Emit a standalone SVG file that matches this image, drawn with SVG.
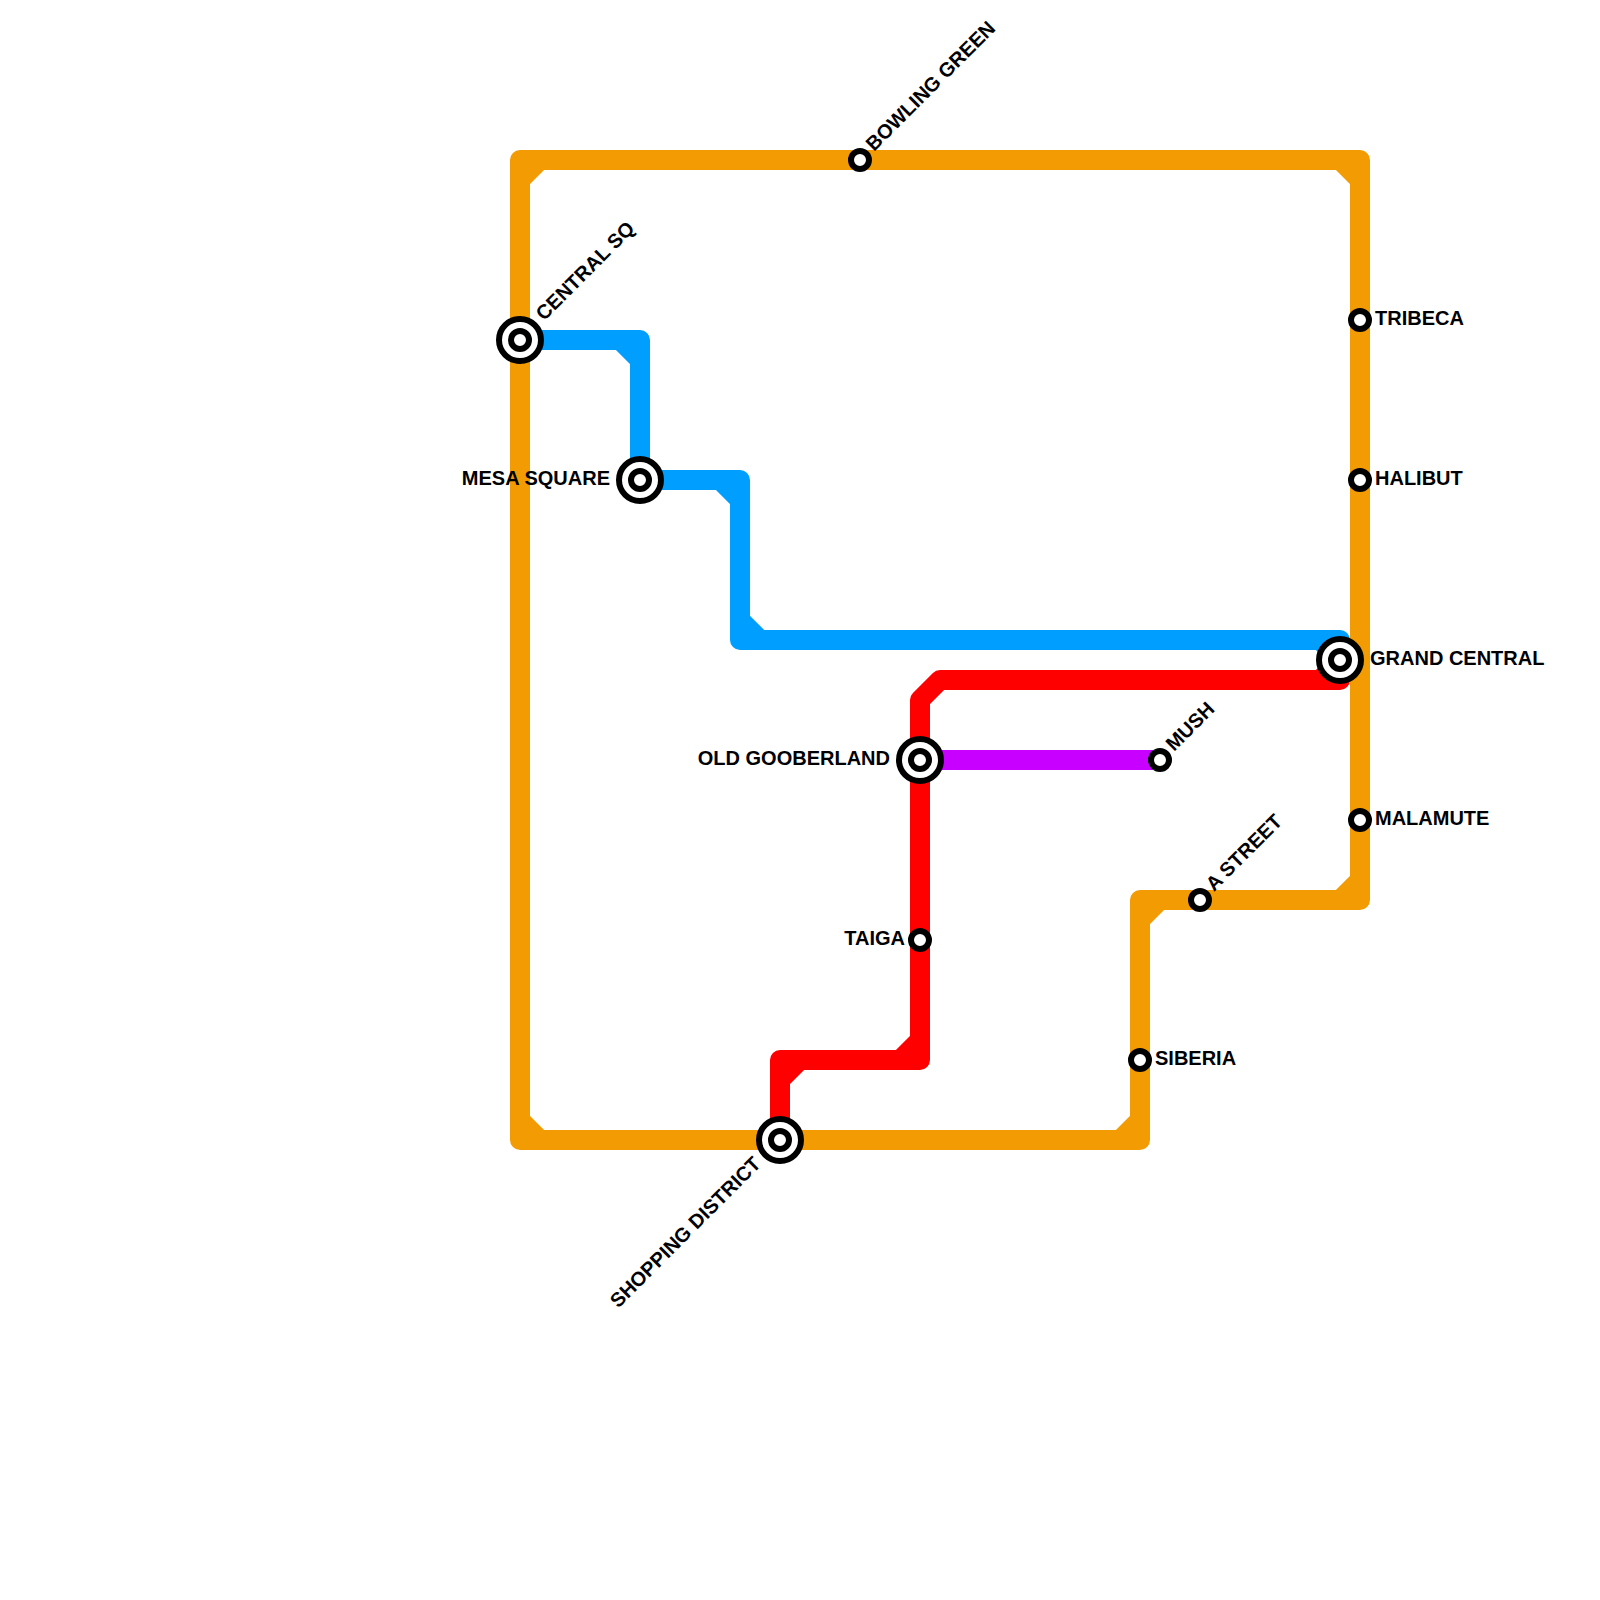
<svg xmlns="http://www.w3.org/2000/svg" width="1600" height="1600" viewBox="0 0 1600 1600">
<style>
.l{fill:none;stroke-width:20;stroke-linejoin:round;stroke-linecap:butt}
.s{fill:#fff;stroke:#000;stroke-width:6}
text{font-family:"Liberation Sans",Arial,sans-serif;font-weight:700;font-size:20px;fill:#000}
</style>
<rect width="1600" height="1600" fill="#fff"/>
<g id="connectors">
<path class="l" stroke="#f39b03" d="M520 160H1360V900H1140V1140H520ZM520 180L540 160M1340 160L1360 180M1360 880L1340 900M1140 920L1160 900M1120 1140L1140 1120M520 1120L540 1140"/>
<path class="l" stroke="#009fff" d="M520 340H640V480H740V640H1340V660M620 340L640 360M720 480L740 500M740 620L760 640M1320 640L1340 660"/>
<path class="l" stroke="#ff0000" d="M1340 660V680H940L920 700V1060H780V1140M1320 680L1340 660M900 1060L920 1040M780 1080L800 1060"/>
<path class="l" stroke="#c800ff" d="M920 760H1160"/>
</g>
<g id="central-sq"><circle class="s" cx="520" cy="340" r="21"/><circle class="s" cx="520" cy="340" r="9"/><text transform="translate(544 321.500) rotate(-45)">CENTRAL SQ</text></g>
<g id="mesa-square"><circle class="s" cx="640" cy="480" r="21"/><circle class="s" cx="640" cy="480" r="9"/><text x="610" y="484.500" text-anchor="end">MESA SQUARE</text></g>
<g id="bowling-green"><circle class="s" cx="860" cy="160" r="9"/><text transform="translate(874 152) rotate(-45)">BOWLING GREEN</text></g>
<g id="tribeca"><circle class="s" cx="1360" cy="320" r="9"/><text x="1375" y="324.500">TRIBECA</text></g>
<g id="halibut"><circle class="s" cx="1360" cy="480" r="9"/><text x="1375" y="484.500">HALIBUT</text></g>
<g id="grand-central"><circle class="s" cx="1340" cy="660" r="21"/><circle class="s" cx="1340" cy="660" r="9"/><text x="1370" y="664.500">GRAND CENTRAL</text></g>
<g id="old-gooberland"><circle class="s" cx="920" cy="760" r="21"/><circle class="s" cx="920" cy="760" r="9"/><text x="890" y="764.500" text-anchor="end">OLD GOOBERLAND</text></g>
<g id="mush"><circle class="s" cx="1160" cy="760" r="9"/><text transform="translate(1174 752) rotate(-45)">MUSH</text></g>
<g id="malamute"><circle class="s" cx="1360" cy="820" r="9"/><text x="1375" y="824.500">MALAMUTE</text></g>
<g id="a-street"><circle class="s" cx="1200" cy="900" r="9"/><text transform="translate(1214 892) rotate(-45)">A STREET</text></g>
<g id="taiga"><circle class="s" cx="920" cy="940" r="9"/><text x="905" y="944.500" text-anchor="end">TAIGA</text></g>
<g id="siberia"><circle class="s" cx="1140" cy="1060" r="9"/><text x="1155" y="1064.500">SIBERIA</text></g>
<g id="shopping-district"><circle class="s" cx="780" cy="1140" r="21"/><circle class="s" cx="780" cy="1140" r="9"/><text transform="translate(762 1165) rotate(-45)" text-anchor="end">SHOPPING DISTRICT</text></g>
</svg>
